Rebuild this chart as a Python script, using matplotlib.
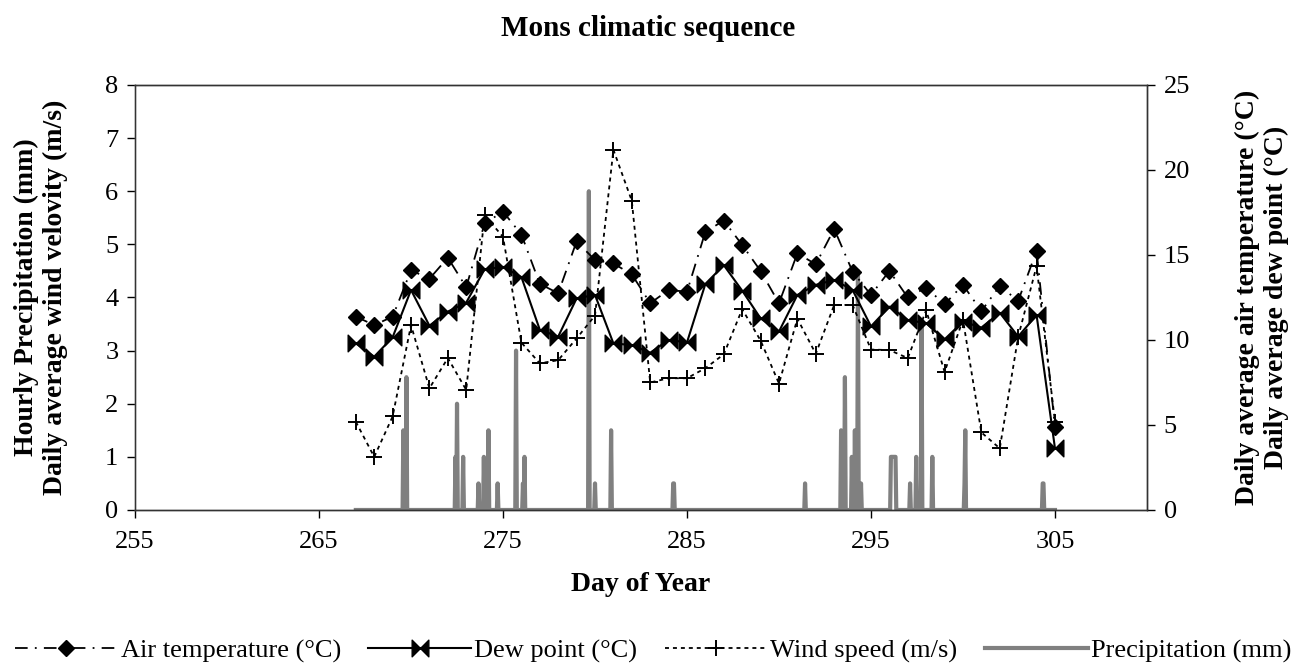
import numpy as np
import matplotlib
matplotlib.use('Agg')
import matplotlib.pyplot as plt
from matplotlib.path import Path

# ---------------- data ----------------
days = list(range(267, 306))
air_temp = [11.37, 10.88, 11.37, 14.1, 13.6, 14.84, 13.1, 16.86, 17.55, 16.2,
            13.3, 12.75, 15.8, 14.7, 14.5, 13.86, 12.16, 12.94, 12.84, 16.37,
            17.02, 15.59, 14.06, 12.16, 15.1, 14.45, 16.53, 14.02, 12.65, 14.06,
            12.5, 13.08, 12.1, 13.24, 11.7, 13.18, 12.3, 15.24, 4.9]
dew_point = [9.8, 9.02, 10.16, 12.94, 10.84, 11.67, 12.2, 14.16, 14.3, 13.7,
             10.6, 10.2, 12.45, 12.65, 9.8, 9.7, 9.25, 10.0, 9.86, 13.3,
             14.4, 12.9, 11.27, 10.5, 12.65, 13.24, 13.53, 12.94, 10.8, 11.96,
             11.18, 10.98, 10.04, 11.08, 10.73, 11.6, 10.2, 11.47, 3.63]
wind_speed = [1.66, 1.0, 1.76, 3.48, 2.29, 2.86, 2.26, 5.55, 5.14, 3.15,
              2.76, 2.82, 3.23, 3.66, 6.78, 5.82, 2.4, 2.48, 2.48, 2.67,
              2.93, 3.78, 3.19, 2.38, 3.6, 2.94, 3.86, 3.86, 3.02, 3.01,
              2.86, 3.76, 2.6, 3.58, 1.46, 1.16, 3.26, 4.59, 1.66]

# hourly precipitation events (day of year, mm); all other hours are 0
precip_day = [269.58, 269.75, 272.42, 272.50, 272.83, 273.67, 273.96, 274.08,
              274.21, 274.71, 275.71, 276.08, 276.17, 279.67, 280.00, 280.88,
              284.25, 284.29, 291.42, 293.38, 293.58, 293.96, 294.12, 294.29,
              294.46, 296.08, 296.12, 296.17, 296.21, 296.25, 296.29, 296.33,
              297.12, 297.46, 297.75, 298.33, 300.08, 300.12, 304.33, 304.38]
precip_mm = [1.5, 2.5, 1.0, 2.0, 1.0, 0.5, 1.0, 0.5,
             1.5, 0.5, 3.0, 0.5, 1.0, 6.0, 0.5, 1.5,
             0.5, 0.5, 0.5, 1.5, 2.5, 1.0, 1.5, 4.5,
             0.5, 1.0, 1.0, 1.0, 1.0, 1.0, 1.0, 1.0,
             0.5, 1.0, 3.5, 1.0, 0.5, 1.5, 0.5, 0.5]
precip_start, precip_end = 267, 305

x_ticks = [255, 265, 275, 285, 295, 305]

# hourly series
n_hours = (precip_end - precip_start) * 24
hour_days = precip_start + np.arange(n_hours + 1) / 24.0
precip_hourly = np.zeros(n_hours + 1)
for d, v in zip(precip_day, precip_mm):
    precip_hourly[int(round((d - precip_start) * 24))] = v

# ---------------- style ----------------
plt.rcParams['font.family'] = ['Liberation Serif', 'DejaVu Serif']
FS = 19

bowtie = Path([(-1, -1), (0, 0), (-1, 1), (-1, -1),
               (1, -1), (0, 0), (1, 1), (1, -1)],
              [Path.MOVETO, Path.LINETO, Path.LINETO, Path.CLOSEPOLY,
               Path.MOVETO, Path.LINETO, Path.LINETO, Path.CLOSEPOLY])

fig = plt.figure(figsize=(12.96, 6.67), dpi=100)
ax = fig.add_axes([0.1042, 0.2354, 0.885 - 0.1042, 0.8726 - 0.2354])
ax2 = ax.twinx()

lp, = ax.plot(hour_days, precip_hourly, color='#808080', lw=3.0,
              label='Precipitation (mm)', zorder=1)
lw_, = ax.plot(days, wind_speed, color='black', lw=1.3, linestyle=(0, (2.2, 2.2)),
               marker='+', markersize=12, markeredgewidth=1.4,
               label='Wind speed (m/s)', zorder=3)
la, = ax2.plot(days, air_temp, color='black', lw=1.3, linestyle=(0, (7, 4, 1, 4)),
               marker='D', markersize=8.5, label='Air temperature (°C)', zorder=3)
ld, = ax2.plot(days, dew_point, color='black', lw=1.5, linestyle='-',
               marker=bowtie, markersize=12, label='Dew point (°C)', zorder=3)

ax.set_xlim(255, 310)
ax.set_ylim(0, 8)
ax2.set_ylim(0, 25)
ax.set_xticks(x_ticks)
ax.set_yticks(range(0, 9))
ax2.set_yticks(range(0, 26, 5))

for a in (ax, ax2):
    a.tick_params(direction='out', length=6, width=1, labelsize=FS, colors='black', pad=6)
    for s in a.spines.values():
        s.set_color('#333333')
        s.set_linewidth(1)
ax.tick_params(axis='x', pad=9)
ax.spines['left'].set_color('#808080')

ax.set_xlabel('Day of Year', fontsize=FS + 1, fontweight='bold', labelpad=14)
ax.set_ylabel('Hourly Precipitation (mm)\nDaily average wind velovity (m/s)',
              fontsize=FS + 1, fontweight='bold', labelpad=27, linespacing=1.2)
ax2.set_ylabel('Daily average air temperature (°C)\nDaily average dew point (°C)',
               fontsize=FS + 1, fontweight='bold', labelpad=32, linespacing=1.2)

fig.text(0.5, 1 - 28 / 667, 'Mons climatic sequence', fontsize=FS + 2,
         fontweight='bold', ha='center', va='center')

fig.legend(handles=[la, ld, lw_, lp], loc='center', ncol=4, frameon=False,
           fontsize=FS, bbox_to_anchor=(0.5 + 5 / 1296, 1 - 651 / 667), handlelength=3.9,
           handletextpad=0.1, columnspacing=1.05, numpoints=1)

fig.savefig('out.png', dpi=100)
